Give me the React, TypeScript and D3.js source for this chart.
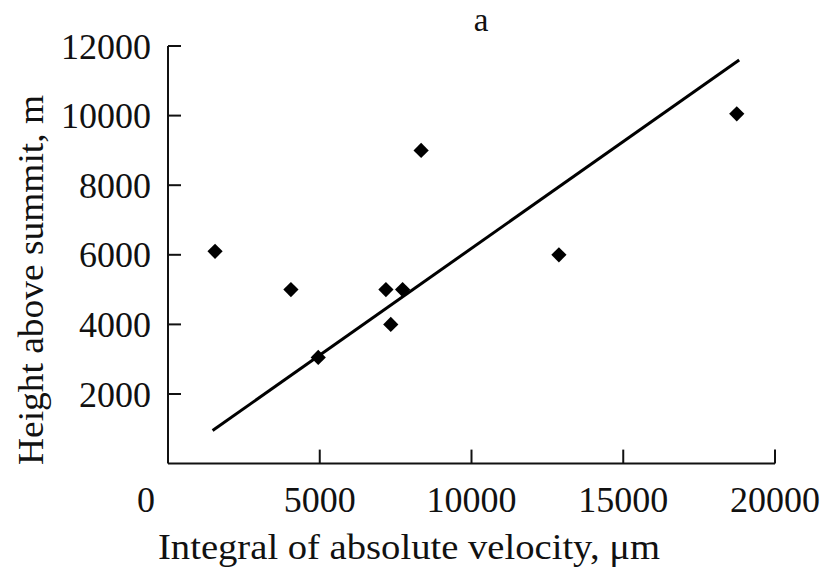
import React from "react";
import * as d3 from "d3";

const xTicks = [0, 5000, 10000, 15000, 20000];
const yTicks = [2000, 4000, 6000, 8000, 10000, 12000];
const pointX = [1550, 4050, 4950, 7180, 7730, 7340, 8340, 12880, 18740];
const pointY = [6100, 5000, 3050, 5000, 5000, 4000, 9000, 6000, 10050];
const fitX = [1470, 18820];
const fitY = [950, 11600];
const title = "a";
const xLabel = "Integral of absolute velocity, \u03bcm";
const yLabel = "Height above summit, m";

const W = 829;
const H = 567;
const left = 168;
const right = 775;
const top = 46;
const bottom = 463.6;

export default function App() {
  const x = d3.scaleLinear().domain([0, 20000]).range([left, right]);
  const y = d3.scaleLinear().domain([0, 12000]).range([bottom, top]);
  const diamond = d3.symbol().type(d3.symbolSquare).size(116)();
  const line = d3
    .line<number>()
    .x((_, i) => x(fitX[i]))
    .y((d) => y(d));
  const font = "'Liberation Serif', 'Times New Roman', serif";
  return (
    <svg
      width={W}
      height={H}
      style={{ position: "absolute", left: 0, top: 0, background: "#fff" }}
      fontFamily={font}
    >
      <rect width={W} height={H} fill="#fff" />
      <text x={481} y={31} fontSize={33} textAnchor="middle" fill="#111">
        {title}
      </text>
      {/* axes */}
      <line x1={left} x2={left} y1={y(12000)} y2={bottom} stroke="#111" strokeWidth={2} />
      <line x1={left} x2={right} y1={bottom} y2={bottom} stroke="#111" strokeWidth={2} />
      {yTicks.map((t) => (
        <g key={"y" + t}>
          <line x1={left} x2={left + 13} y1={y(t)} y2={y(t)} stroke="#111" strokeWidth={2} />
          <text x={151} y={y(t)} dy="0.35em" fontSize={36} textAnchor="end" fill="#111">
            {t}
          </text>
        </g>
      ))}
      {xTicks.map((t) => (
        <g key={"x" + t}>
          {t > 0 && (
            <line x1={x(t)} x2={x(t)} y1={bottom} y2={bottom - 14} stroke="#111" strokeWidth={2} />
          )}
          <text x={t === 0 ? 146 : x(t)} y={512} fontSize={36} textAnchor="middle" fill="#111">
            {t}
          </text>
        </g>
      ))}
      <text
        x={158}
        y={559}
        fontSize={36}
        textLength={502}
        lengthAdjust="spacingAndGlyphs"
        fill="#111"
      >
        {xLabel}
      </text>
      <text
        transform={`translate(43,465) rotate(-90)`}
        fontSize={36}
        textLength={370}
        lengthAdjust="spacingAndGlyphs"
        fill="#111"
      >
        {yLabel}
      </text>
      <path d={line(fitY) || ""} fill="none" stroke="#000" strokeWidth={3} />
      {pointX.map((px, i) => (
        <path
          key={i}
          d={diamond || ""}
          transform={`translate(${x(px)},${y(pointY[i])}) rotate(45)`}
          fill="#000"
        />
      ))}
    </svg>
  );
}
